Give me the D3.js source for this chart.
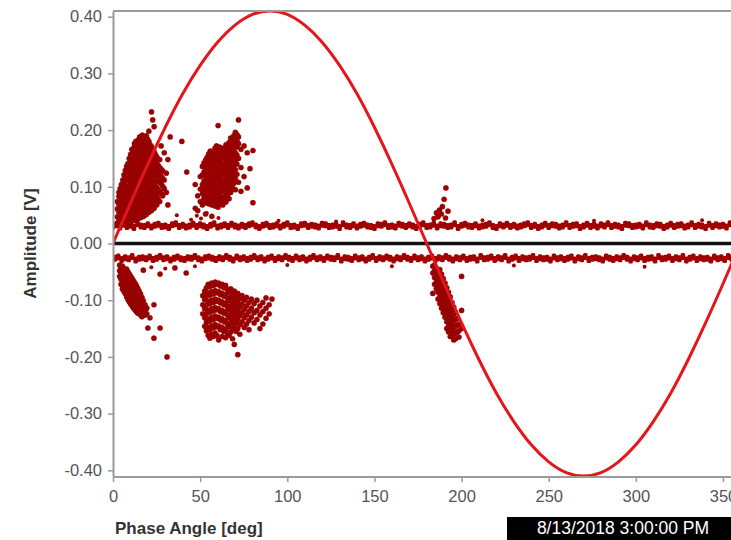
<!DOCTYPE html>
<html><head><meta charset="utf-8">
<script src="https://cdn.jsdelivr.net/npm/d3@7"></script>
<style>body{margin:0;background:#fff}svg{display:block}</style>
</head><body>
<svg id="chart" width="731" height="540"></svg>
<script>
// ---------- data ----------
const xTicks = [0, 50, 100, 150, 200, 250, 300, 350];
const yTicks = [0.4, 0.3, 0.2, 0.1, 0, -0.1, -0.2, -0.3, -0.4];
const xTitle = "Phase Angle [deg]";
const yTitle = "Amplitude [V]";
const timeStamp = "8/13/2018 3:00:00 PM";

// reference sine (phase deg, volts)
const sinePhase = [0,10,20,30,40,50,60,70,80,90,100,110,120,130,140,150,160,170,180,190,200,210,220,230,240,250,260,270,280,290,300,310,320,330,340,350,360];
const sineVolts = [0,.071,.140,.205,.264,.314,.355,.385,.404,.41,.404,.385,.355,.314,.264,.205,.140,.071,0,-.071,-.140,-.205,-.264,-.314,-.355,-.385,-.404,-.41,-.404,-.385,-.355,-.314,-.264,-.205,-.140,-.071,0];

// noise bands: one sample every 2 deg, amplitude in mV
const bandStepDeg = 2;
const upperBandMv = [31,33,29,34,30,32,28,35,31,30,33,29,32,34,30,31,28,33,35,30,32,29,31,34,30,33,31,28,32,35,29,31,33,30,34,31,29,32,30,33,35,31,28,32,34,30,31,33,29,32,35,30,31,28,33,34,30,32,31,29,34,33,30,31,32,28,35,31,30,33,29,32,34,31,30,28,33,32,35,30,31,29,34,32,30,33,31,28,32,35,30,31,34,29,33,32,30,31,35,28,32,34,31,30,33,29,31,32,35,30,28,33,31,34,30,32,29,31,33,35,30,32,28,31,34,30,33,32,29,31,35,30,32,33,28,31,34,30,32,29,33,31,35,30,32,31,28,34,33,30,31,32,29,35,31,30,33,32,28,31,34,30,32,33,29,31,35,30,32,31,28,34,30,33,31,32,29,35,31,30,33,31,29];
const lowerBandMv = [-26,-24,-28,-25,-27,-23,-29,-26,-25,-27,-24,-28,-26,-23,-27,-25,-29,-26,-24,-27,-28,-25,-26,-23,-27,-29,-25,-24,-26,-28,-25,-27,-23,-26,-29,-24,-27,-25,-28,-26,-23,-27,-25,-29,-26,-24,-28,-25,-27,-23,-26,-28,-24,-27,-25,-29,-26,-23,-27,-25,-28,-24,-26,-27,-23,-29,-25,-26,-28,-24,-27,-25,-29,-26,-23,-28,-25,-27,-24,-26,-29,-25,-27,-23,-26,-28,-24,-27,-25,-29,-26,-24,-28,-25,-27,-23,-26,-29,-25,-27,-24,-28,-26,-25,-29,-23,-27,-26,-24,-28,-25,-27,-23,-29,-26,-24,-28,-25,-27,-26,-23,-28,-25,-27,-26,-29,-24,-27,-25,-28,-26,-24,-29,-25,-27,-23,-28,-26,-25,-27,-29,-24,-26,-28,-25,-27,-23,-26,-29,-25,-27,-24,-28,-26,-25,-29,-23,-27,-26,-24,-28,-25,-27,-23,-29,-26,-24,-28,-25,-27,-26,-29,-24,-27,-25,-28,-23,-26,-27,-25,-28,-26,-24];

// discharge clusters: [phase deg, [amplitudes mV]]
const clusterPosLow = [
 [2.5,[36,47,61,74]],[3.4,[41,55,69,83,90]],[4.1,[34,44,58,71,86,97]],[4.8,[39,52,64,78,93,104]],
 [5.6,[36,47,60,73,88,101,112]],[6.3,[42,54,67,81,95,108,121]],[7.1,[35,49,61,75,89,102,116,129]],
 [7.8,[40,53,66,80,94,110,124,136]],[8.6,[37,46,59,72,86,99,113,127,141]],[9.3,[43,56,70,83,97,111,125,138,150]],
 [10.1,[38,50,63,77,91,104,119,132,146,157]],[10.8,[45,58,72,85,99,113,127,141,154,166]],
 [11.6,[40,53,66,80,94,108,121,135,149,162]],[12.3,[47,60,74,88,101,115,129,143,157,171,176]],
 [13.1,[42,55,68,82,96,110,124,138,151,165,180]],[13.8,[49,63,76,90,104,118,131,145,159,173]],
 [14.6,[44,57,71,85,98,112,126,140,154,168,183]],[15.3,[51,65,78,92,106,120,133,147,161,175,188]],
 [16.1,[46,60,73,87,101,115,128,142,156,170,184]],[16.8,[53,67,81,94,108,122,136,150,163,177,191]],
 [17.6,[48,62,76,89,103,117,131,145,158,172,186]],[18.3,[56,70,84,97,111,125,139,153,167,181]],
 [19.1,[51,65,79,93,107,121,134,148,162,176,190]],[19.8,[59,73,87,101,115,129,143,157,171,184]],
 [20.6,[55,69,83,97,111,125,139,153,166,180,198]],[21.3,[63,77,91,105,119,133,147,160,174]],
 [22.1,[58,73,88,102,116,130,144,158,171,232]],[22.8,[67,82,96,110,124,138,152,166,218]],
 [23.6,[62,78,93,107,121,136,150,162,206]],[24.3,[72,87,101,116,131,145,157]],
 [25.1,[68,84,99,114,128,141,153]],[25.9,[79,95,110,124,138]],[26.8,[74,92,108,121,134,148]],
 [27.6,[89,106,119,131,172]],[28.5,[84,101,115,128]],[29.4,[97,112,160]],[30.6,[90,124]],
 [31.5,[68,148]],[32.8,[188]],[39.5,[180]],[42.3,[126]]
];
const clusterPosMid = [
 [47.2,[104,62]],[48.6,[84,58]],[50.1,[96,118,74]],[51.3,[88,104,121,136,68]],[52.2,[80,95,110,126,142]],
 [53.1,[72,87,101,116,131,147,52]],[54.0,[78,93,107,122,137,152]],[54.9,[70,85,99,114,129,144,158]],
 [55.8,[76,90,105,119,134,149,163]],[56.7,[68,83,97,112,126,141,156,48]],[57.6,[74,88,103,117,132,146,160]],
 [58.5,[66,81,95,110,124,139,153,168]],[59.4,[72,86,101,115,130,144,159,172]],[60.3,[64,79,93,108,122,137,151,166,208]],
 [61.2,[70,84,99,113,128,142,157,170]],[62.1,[76,91,105,120,134,149,163]],[63.0,[68,82,97,111,126,140,155,168]],
 [63.9,[80,94,109,123,138,152,166]],[64.8,[73,88,102,117,131,146,160,174]],[65.7,[86,100,115,129,144,158,172]],
 [66.6,[79,93,108,122,137,151,165,178]],[67.5,[90,104,119,133,148,162,176,186]],[68.4,[98,112,127,141,156,170,184]],
 [69.3,[106,120,135,149,163,177,190]],[70.2,[95,114,130,146,160,174,187,196]],[71.1,[122,140,156,170,182,192]],
 [72.0,[108,150,176,188,218]],[73.4,[92,134,166]],[75.2,[172,118]],[77.0,[160,98]],[78.6,[132]],[80.3,[164,72]]
];
const clusterNegMid = [
 [51.5,[-92,-108,-124]],[52.6,[-84,-99,-115,-131,-146]],[53.6,[-78,-93,-109,-124,-139,-154]],
 [54.6,[-72,-87,-102,-118,-133,-148,-162]],[55.6,[-76,-91,-106,-121,-137,-152,-167]],[56.6,[-70,-85,-100,-115,-130,-145,-160]],
 [57.6,[-74,-89,-104,-119,-134,-149,-164]],[58.6,[-68,-83,-98,-113,-128,-143,-158]],[59.6,[-72,-87,-102,-117,-132,-147,-162]],
 [60.6,[-70,-85,-100,-115,-130,-145,-170]],[61.6,[-75,-90,-105,-120,-135,-152]],[62.6,[-72,-88,-103,-118,-133,-148,-164]],
 [63.6,[-78,-93,-108,-123,-138,-155]],[64.6,[-74,-90,-105,-120,-136,-151,-166]],[65.6,[-81,-96,-111,-126,-142,-158]],
 [66.6,[-86,-101,-116,-131,-147,-162]],[67.6,[-80,-95,-110,-125,-140,-156]],[68.6,[-90,-105,-120,-135,-150,-168]],
 [69.6,[-84,-99,-114,-129,-145,-178]],[70.6,[-94,-109,-124,-139,-155]],[71.6,[-88,-103,-118,-133,-150,-196]],
 [72.8,[-97,-112,-127,-143,-160]],[74.0,[-92,-107,-122,-138]],[75.3,[-100,-116,-131,-148]],[76.6,[-95,-110,-126,-142]],
 [78.0,[-104,-120,-136,-152]],[79.4,[-98,-114,-130]],[81.0,[-106,-122,-140]],[82.6,[-100,-118,-134]],
 [84.3,[-110,-126,-150]],[86.0,[-104,-120,-142]],[87.8,[-96,-114,-132]],[89.6,[-108,-124]],[91.2,[-98]]
];
const clusterNegLow = [
 [3.8,[-38,-48,-58]],[4.6,[-42,-52,-63,-72]],[5.4,[-40,-50,-60,-70,-80]],[6.2,[-44,-54,-65,-75,-84]],
 [7.0,[-47,-57,-68,-78,-88]],[7.8,[-45,-55,-66,-76,-86,-94]],[8.6,[-50,-60,-71,-81,-91,-99]],
 [9.4,[-54,-64,-74,-84,-94,-103]],[10.2,[-58,-68,-78,-88,-98,-107]],[11.0,[-62,-72,-82,-92,-102,-110]],
 [11.8,[-66,-76,-86,-96,-106,-114]],[12.6,[-70,-80,-90,-100,-110,-117]],[13.4,[-74,-84,-94,-104,-113,-120]],
 [14.2,[-79,-89,-99,-108,-117,-123]],[15.0,[-84,-94,-104,-113,-121]],[15.8,[-89,-99,-109,-118,-126]],
 [16.6,[-95,-105,-114,-122,-129]],[17.4,[-47,-101,-111,-120,-127]],[18.4,[-108,-118,-126]],[19.4,[-114,-124]],
 [20.0,[-149]],[21.2,[-131]],[23.5,[-108,-167]],[27.0,[-54,-149]],[31.0,[-200]],[35.5,[-43]],[42.0,[-52]]
];
const clusterNegHigh = [
 [183.5,[-40,-52,-88]],[184.5,[-38,-48,-60,-72]],[185.5,[-44,-56,-68,-80]],[186.5,[-50,-62,-74,-86,-98]],
 [187.5,[-46,-58,-70,-82,-94,-106]],[188.5,[-54,-66,-78,-90,-102,-114]],[189.5,[-62,-74,-86,-98,-110,-122]],
 [190.5,[-70,-82,-94,-106,-118,-130]],[191.5,[-78,-90,-102,-114,-126,-138,-150]],[192.5,[-86,-98,-110,-122,-134,-146,-156]],
 [193.5,[-94,-106,-118,-130,-142,-154,-164]],[194.5,[-104,-116,-128,-140,-152,-162]],[195.5,[-112,-124,-136,-148,-160,-170]],
 [196.5,[-122,-134,-146,-158,-168]],[197.5,[-132,-144,-156]],[198.5,[-142,-154,-165]],[200.0,[-58,-118,-150]]
];
const clusterPosHigh = [
 [184.2,[44]],[185.6,[54]],[186.5,[47]],[187.3,[59]],[188.4,[52]],[189,[65]],[190,[78]],[190.8,[45]],[191,[98]],[192.2,[57]]
];
const strayPoints = [
 [36.6,50],[44.8,42],[48.1,49],[50.5,44],[53.8,54],[60.5,45],[95,40],[128,39],[212,41],[276,40],[338,41],
 [22,-42],[30,-44],[47,-40],[100,-38],[160,-40],[230,-39],[305,-41]
];

// ---------- drawing ----------
const W = 731, H = 540;
const svg = d3.select("#chart");
const x = d3.scaleLinear().domain([0, 350]).range([113, 723]);
const y = d3.scaleLinear().domain([-0.41, 0.41]).range([476, 11]);
const mv = v => y(v / 1000);
const font = "'Liberation Sans', Arial, sans-serif";

svg.append("rect").attr("width", W).attr("height", H).attr("fill", "#fff");

svg.append("defs").append("clipPath").attr("id", "plot")
  .append("rect").attr("x", x(0)).attr("y", y(0.41)).attr("width", x(360) - x(0)).attr("height", y(-0.41) - y(0.41));

const plot = svg.append("g").attr("clip-path", "url(#plot)");

// flatten cluster columns
const pts = [];
[clusterPosLow, clusterPosMid, clusterNegMid, clusterNegLow, clusterNegHigh, clusterPosHigh].forEach(c =>
  c.forEach(([p, vals]) => vals.forEach(v => pts.push([p, v]))));
const bandPts = [];
upperBandMv.forEach((v, i) => bandPts.push([i * bandStepDeg, v]));
lowerBandMv.forEach((v, i) => bandPts.push([i * bandStepDeg + 1, v]));

const dotColor = "#a10000";
plot.append("g").selectAll("rect").data(bandPts).join("rect")
  .attr("x", d => x(d[0]) - 2.3).attr("y", d => mv(d[1]) - 3.5).attr("width", 4.6).attr("height", 7)
  .attr("rx", 1.5)
  .attr("fill", dotColor);
plot.append("g").selectAll("circle").data(pts).join("circle")
  .attr("cx", d => x(d[0])).attr("cy", d => mv(d[1])).attr("r", 2.6)
  .attr("fill", dotColor).attr("stroke", "#7a0000").attr("stroke-width", 0.4);
plot.append("g").selectAll("circle").data(strayPoints).join("circle")
  .attr("cx", d => x(d[0])).attr("cy", d => mv(d[1])).attr("r", 2)
  .attr("fill", dotColor);

// zero line
plot.append("line").attr("x1", x(0)).attr("x2", x(360)).attr("y1", y(0)).attr("y2", y(0))
  .attr("stroke", "#111").attr("stroke-width", 3.5);

// sine reference
plot.append("path")
  .datum(sinePhase.map((p, i) => [p, sineVolts[i]]))
  .attr("d", d3.line().x(d => x(d[0])).y(d => y(d[1])).curve(d3.curveNatural))
  .attr("fill", "none").attr("stroke", "#e4161b").attr("stroke-width", 3);

// frame top
svg.append("line").attr("x1", x(0)).attr("x2", W).attr("y1", y(0.41)).attr("y2", y(0.41))
  .attr("stroke", "#9a9a9a").attr("stroke-width", 2);

// axes
const yAxis = svg.append("g").attr("transform", `translate(${x(0)},0)`)
  .call(d3.axisLeft(y).tickValues(yTicks).tickFormat(d => d.toFixed(2)).tickSize(5).tickSizeOuter(0).tickPadding(6));
const xAxis = svg.append("g").attr("transform", `translate(0,${y(-0.41) + 1})`)
  .call(d3.axisBottom(x).tickValues(xTicks).tickFormat(d3.format("d")).tickSize(5).tickSizeOuter(0).tickPadding(8));
xAxis.select(".domain").attr("d", `M${x(0)},0H${W}`);
[yAxis, xAxis].forEach(a => {
  a.select(".domain").attr("stroke", "#9a9a9a").attr("stroke-width", 2);
  a.selectAll(".tick line").attr("stroke", "#9a9a9a").attr("stroke-width", 1.5);
  a.selectAll(".tick text").attr("fill", "#555").style("font-family", font).style("font-size", "16.5px");
});

// titles
svg.append("text").attr("x", 115).attr("y", 534)
  .style("font-family", font).style("font-size", "17px").style("font-weight", "bold")
  .attr("fill", "#333").text(xTitle);
svg.append("text").attr("transform", `translate(36,${y(0)}) rotate(-90)`).attr("text-anchor", "middle")
  .style("font-family", font).style("font-size", "17px").style("font-weight", "bold")
  .attr("fill", "#333").text(yTitle);

// timestamp box
svg.append("rect").attr("x", 507).attr("y", 517).attr("width", W - 507).attr("height", 23).attr("fill", "#000");
svg.append("text").attr("x", 623).attr("y", 534).attr("text-anchor", "middle")
  .style("font-family", font).style("font-size", "17.5px").attr("fill", "#fff").text(timeStamp);
</script>
</body></html>
